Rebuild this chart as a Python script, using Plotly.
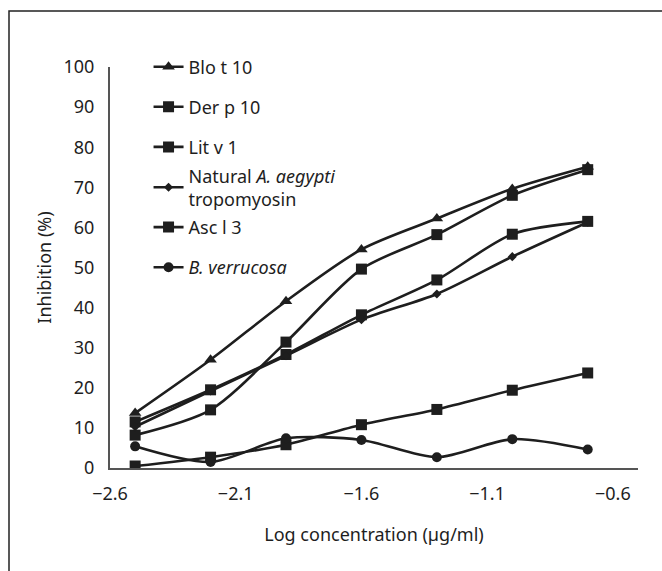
import plotly.graph_objects as go

# ---- data ----
log_conc = [-2.5, -2.2, -1.9, -1.6, -1.3, -1.0, -0.7]

blo_t_10 = [13.7, 27.0, 41.6, 54.5, 62.2, 69.6, 75.1]
der_p_10 = [8.2, 14.5, 31.4, 49.6, 58.2, 68.0, 74.4]
lit_v_1 = [11.5, 19.5, 28.3, 38.2, 46.9, 58.3, 61.5]
natural_aegypti = [10.3, 19.2, 28.0, 37.0, 43.4, 52.7, 61.3]
asc_l_3 = [0.5, 2.7, 5.8, 10.8, 14.6, 19.4, 23.7]
b_verrucosa = [5.4, 1.5, 7.4, 7.0, 2.7, 7.2, 4.6]

series_names = [
    "Blo t 10",
    "Der p 10",
    "Lit v 1",
    "Natural <i>A. aegypti</i><br>tropomyosin",
    "Asc l 3",
    "<i>B. verrucosa</i>",
]
series_values = [blo_t_10, der_p_10, lit_v_1, natural_aegypti, asc_l_3, b_verrucosa]
series_symbols = ["triangle-up", "square", "square", "diamond", "square", "circle"]
series_sizes = [11, 11, 11, 7, 11, 10]
legend_levels = [100, 90, 80, 70, 60, 50]   # legend rows sit on these y levels

x_ticks = [-2.6, -2.1, -1.6, -1.1, -0.6]
x_tick_labels = ["\u22122.6", "\u22122.1", "\u22121.6", "\u22121.1", "\u22120.6"]
y_ticks = [0, 10, 20, 30, 40, 50, 60, 70, 80, 90, 100]

INK = "#1e1e1e"
FONT = "Noto Sans"

fig = go.Figure()
legend_ids = ["legend", "legend2", "legend3", "legend4", "legend5", "legend6"]
for name, vals, sym, sz, lid in zip(series_names, series_values, series_symbols,
                                    series_sizes, legend_ids):
    fig.add_trace(go.Scatter(
        x=log_conc, y=vals, name=name, mode="lines+markers",
        line=dict(color=INK, width=2.6, shape="spline", smoothing=0.8),
        marker=dict(symbol=sym, size=sz, color=INK, line=dict(width=0)),
        legend=lid,
    ))

L, R, T, B = 110, 24, 67, 103
W, H = 662, 571
ph = H - T - B

legend_layouts = {}
for lid, lvl in zip(legend_ids, legend_levels):
    legend_layouts[lid] = dict(
        x=0.073, xanchor="left", y=lvl / 100.0, yanchor="middle",
        bgcolor="rgba(0,0,0,0)", borderwidth=0,
        font=dict(family=FONT, size=18, color=INK),
        valign="middle", itemwidth=30,
    )

fig.update_layout(
    width=W, height=H,
    margin=dict(l=L, r=R, t=T, b=B),
    paper_bgcolor="white", plot_bgcolor="white",
    font=dict(family=FONT, size=18, color=INK),
    showlegend=True,
    xaxis=dict(
        range=[-2.6, -0.5], tickvals=x_ticks, ticktext=x_tick_labels,
        showgrid=False, zeroline=False, showline=True, linecolor="#555555",
        linewidth=2, ticks="", ticklabelstandoff=8,
        title=dict(text="Log concentration (\u00b5g/ml)", standoff=25,
                   font=dict(family=FONT, size=18, color=INK)),
        tickfont=dict(family=FONT, size=18, color=INK),
    ),
    yaxis=dict(
        range=[0, 100], tickvals=y_ticks,
        showgrid=False, zeroline=False, showline=True, linecolor="#555555",
        linewidth=2, ticks="", ticklabelstandoff=10,
        title=dict(text="Inhibition (%)", standoff=7,
                   font=dict(family=FONT, size=18, color=INK)),
        tickfont=dict(family=FONT, size=18, color=INK),
    ),
    shapes=[dict(
        type="rect", xref="paper", yref="paper",
        x0=(9 - L) / (W - L - R), x1=1.3,
        y0=-0.5, y1=(H - B - 11) / ph,
        line=dict(color="#222222", width=1.5), fillcolor="rgba(0,0,0,0)",
        layer="below",
    )],
    **legend_layouts,
)

fig.write_html("out.html", config={"displayModeBar": False},
               post_script="document.body.style.margin='0';")
